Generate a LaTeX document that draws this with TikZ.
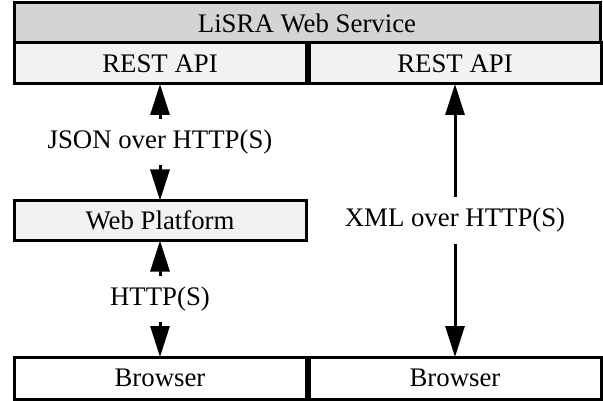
\documentclass[tikz,border=0pt]{standalone}
\usepackage{fontspec}
\setmainfont{Liberation Serif}
\usetikzlibrary{arrows.meta}

\definecolor{headgray}{HTML}{D4D4D4}
\definecolor{apigray}{HTML}{F2F2F2}

\tikzset{
  box/.style={draw=black, line width=3pt, outer sep=0pt, inner sep=0pt,
    font=\fontsize{26.8pt}{32pt}\selectfont, minimum width=292pt},
  conn/.style={line width=3pt, {Triangle[length=31pt,width=19pt]}-{Triangle[length=31pt,width=19pt]}},
  lbl/.style={fill=white, inner xsep=4pt, inner ysep=11pt,
    font=\fontsize{26.8pt}{32pt}\selectfont}
}

\begin{document}
\begin{tikzpicture}[x=1pt, y=-1pt]
  \useasboundingbox (0,0) rectangle (603,401);

  % service header and its two API endpoints
  \node[box, fill=headgray, minimum width=586pt, minimum height=40pt] (svc) at (307,23) {LiSRA Web Service};
  \node[box, fill=apigray, minimum height=41pt] (apiL) at (160,63.5) {REST API};
  \node[box, fill=apigray, minimum height=41pt] (apiR) at (455,63.5) {REST API};

  % intermediate web platform
  \node[box, fill=apigray, minimum height=40pt] (web) at (160,220.5) {Web Platform};

  % clients
  \node[box, fill=white, minimum height=42pt] (brL) at (160,378) {Browser};
  \node[box, fill=white, minimum height=42pt] (brR) at (455,378) {Browser};

  % protocols
  \draw[conn] (apiL.south) -- node[lbl] {JSON over HTTP(S)} (web.north);
  \draw[conn] (web.south) -- node[lbl] {HTTP(S)} (brL.north);
  \draw[conn] (apiR.south) -- node[lbl] {XML over HTTP(S)} (brR.north);
\end{tikzpicture}
\end{document}
